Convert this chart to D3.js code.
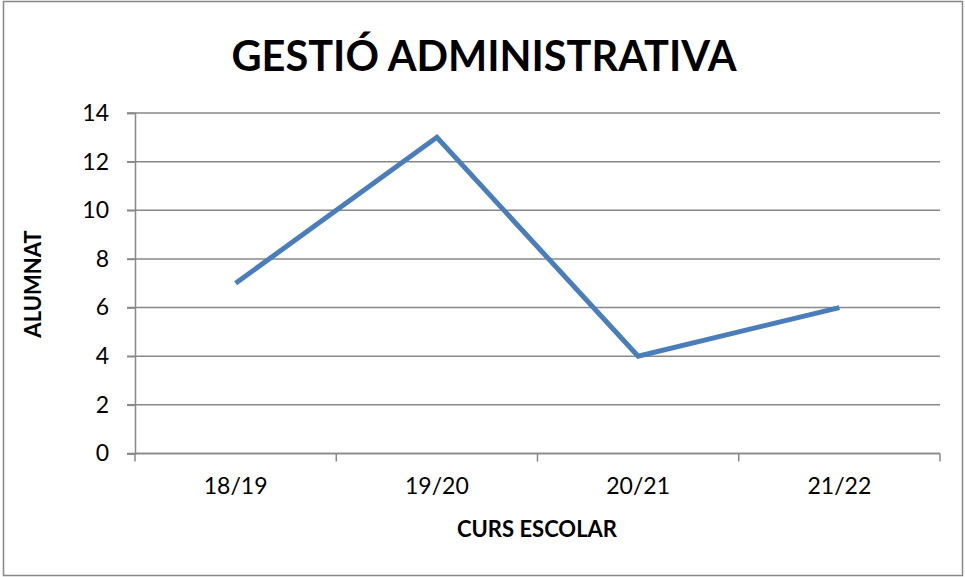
<!DOCTYPE html>
<html>
<head>
<meta charset="utf-8">
<script src="https://cdn.jsdelivr.net/npm/d3@7"></script>
<style>
  body { margin: 0; background: #fff; }
  text { font-family: Lato, "Liberation Sans", sans-serif; fill: #000; }
</style>
</head>
<body>
<svg></svg>
<script>
var cursos = ["18/19", "19/20", "20/21", "21/22"]
var alumnat = [7, 13, 4, 6]
var yTicks = [0, 2, 4, 6, 8, 10, 12, 14]

var screen = {width: 965, height: 577}
var plot = {left: 135, right: 940, top: 113, bottom: 453.5}

var svg = d3.select("svg")
    .attr("width", screen.width)
    .attr("height", screen.height)

// chart border
svg.append("rect")
    .attr("x", 3.5).attr("y", 1.5)
    .attr("width", 959).attr("height", 574)
    .attr("fill", "none")
    .attr("stroke", "#888").attr("stroke-width", 1.5)

var xScale = d3.scaleBand()
    .domain(cursos)
    .range([plot.left, plot.right])

var yScale = d3.scaleLinear()
    .domain([0, 14])
    .range([plot.bottom, plot.top])

// gridlines
svg.append("g")
    .selectAll("line")
    .data(yTicks)
    .enter()
    .append("line")
    .attr("x1", plot.left - 8)
    .attr("x2", plot.right)
    .attr("y1", function (d) { return yScale(d) })
    .attr("y2", function (d) { return yScale(d) })
    .attr("stroke", "#888").attr("stroke-width", 1.5)

// y axis
var yAxis = svg.append("g")
    .attr("transform", "translate(" + plot.left + ",0)")
    .call(d3.axisLeft(yScale).tickValues(yTicks).tickSize(8).tickPadding(18))
yAxis.select(".domain").attr("stroke", "#888").attr("stroke-width", 1.5)
yAxis.selectAll(".tick line").attr("stroke", "#888").attr("stroke-width", 1.5)
yAxis.selectAll("text").style("font-size", "23px").attr("fill", "#000")

// x axis with ticks at category boundaries
var xAxis = svg.append("g")
    .attr("transform", "translate(0," + plot.bottom + ")")
    .call(d3.axisBottom(xScale).tickSize(0).tickPadding(24))
xAxis.select(".domain").remove()
xAxis.selectAll("text").style("font-size", "23px").attr("fill", "#000")
svg.append("line")
    .attr("x1", plot.left).attr("x2", plot.right)
    .attr("y1", plot.bottom).attr("y2", plot.bottom)
    .attr("stroke", "#888").attr("stroke-width", 1.5)
var bounds = cursos.map(function (c) { return xScale(c) }).concat([plot.right])
svg.append("g")
    .selectAll("line")
    .data(bounds)
    .enter()
    .append("line")
    .attr("x1", function (d) { return d })
    .attr("x2", function (d) { return d })
    .attr("y1", plot.bottom)
    .attr("y2", plot.bottom + 8)
    .attr("stroke", "#888").attr("stroke-width", 1.5)

// series line
var line = d3.line()
    .x(function (d, i) { return xScale(cursos[i]) + xScale.bandwidth() / 2 })
    .y(function (d) { return yScale(d) })

svg.append("path")
    .datum(alumnat)
    .attr("d", line)
    .attr("fill", "none")
    .attr("stroke", "#4a7ebb")
    .attr("stroke-width", 5)
    .attr("stroke-linejoin", "miter")

// titles
svg.append("text")
    .attr("x", 484).attr("y", 71)
    .attr("text-anchor", "middle")
    .style("font-size", "41.5px").style("font-weight", "bold")
    .text("GESTIÓ ADMINISTRATIVA")

svg.append("text")
    .attr("x", 537).attr("y", 537)
    .attr("text-anchor", "middle")
    .style("font-size", "22px").style("font-weight", "bold")
    .text("CURS ESCOLAR")

svg.append("text")
    .attr("transform", "translate(41,284) rotate(-90)")
    .attr("text-anchor", "middle")
    .style("font-size", "22px").style("font-weight", "bold")
    .text("ALUMNAT")
</script>
</body>
</html>
